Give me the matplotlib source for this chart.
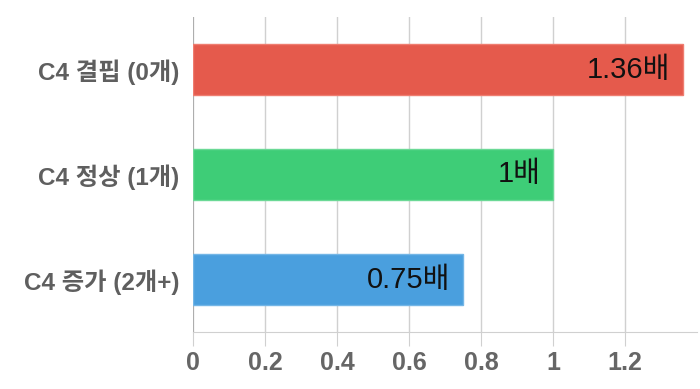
import matplotlib
matplotlib.use("Agg")
import matplotlib.pyplot as plt

categories = ["C4 결핍 (0개)", "C4 정상 (1개)", "C4 증가 (2개+)"]
values = [1.36, 1.0, 0.75]
value_labels = ["1.36배", "1배", "0.75배"]
colors = ["#e55a4c", "#3ecd77", "#4a9fde"]
edge_colors = ["#ef7d70", "#6bd996", "#74b6e6"]
xticks = [0, 0.2, 0.4, 0.6, 0.8, 1.0, 1.2]
xtick_labels = ["0", "0.2", "0.4", "0.6", "0.8", "1", "1.2"]

fam = ['Liberation Sans', 'Noto Sans CJK KR', 'DejaVu Sans']
plt.rcParams['font.family'] = fam

fig = plt.figure(figsize=(7, 3.89), dpi=100)
ax = fig.add_axes([193/700, 1-332/389, 504/700, 315/389])

y = list(range(len(categories)))
ax.barh(y, values, height=0.48, color=colors, edgecolor=edge_colors, linewidth=1.0, zorder=3)

for yi, v, lab in zip(y, values, value_labels):
    ax.text(v - 0.035, yi, lab, ha='right', va='center', fontsize=21,
            color='#111111', zorder=4)

ax.set_xlim(0, 1.4)
ax.set_ylim(2.5, -0.5)
ax.set_yticks(y)
ax.set_yticklabels(categories, fontsize=17.5, fontweight='bold', color='#5f5f5f')
ax.set_xticks(xticks)
ax.set_xticklabels(xtick_labels, fontsize=18, fontweight='bold', color='#666666')

ax.grid(axis='x', color='#d0d0d0', linewidth=1.0, zorder=0)
ax.axvline(0, color='#a8a8a8', linewidth=1.2, zorder=2)
for s in ['top', 'right', 'left']:
    ax.spines[s].set_visible(False)
ax.spines['bottom'].set_color('#d0d0d0')
ax.tick_params(axis='x', length=10, color='#d0d0d0', pad=4)
ax.tick_params(axis='y', length=0, pad=10)

fig.savefig("out.png", dpi=100)
